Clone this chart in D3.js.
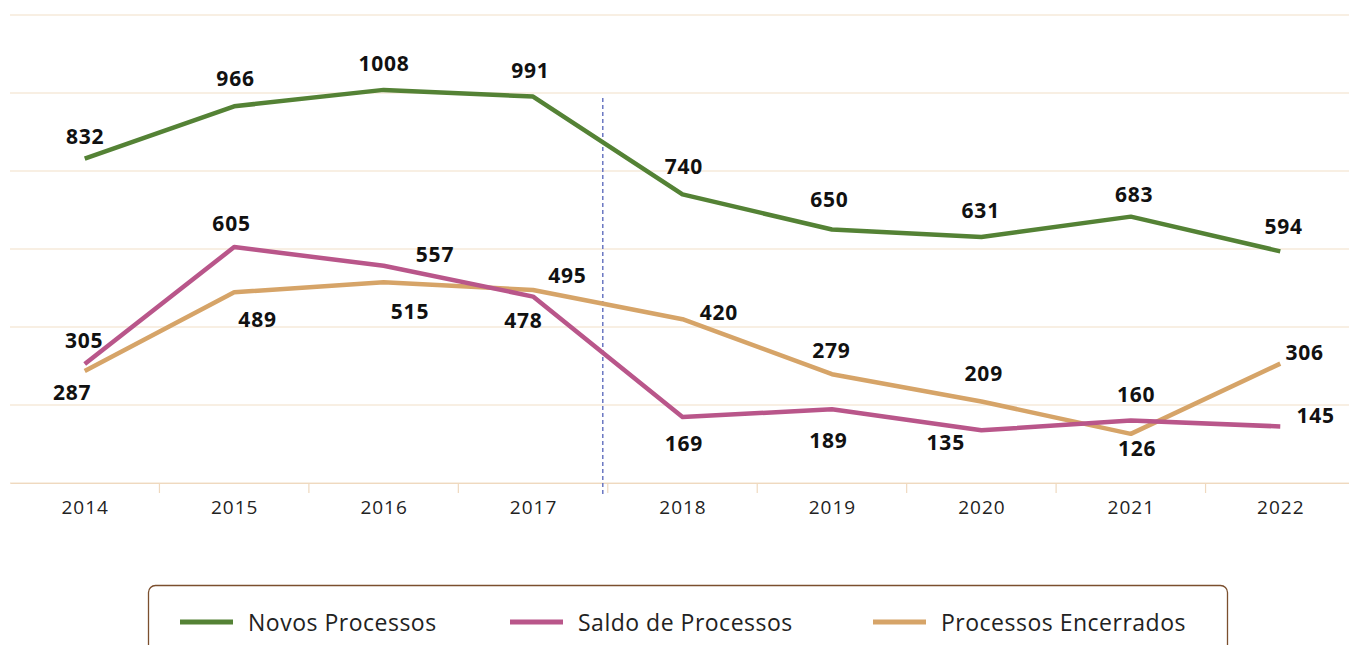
<!DOCTYPE html>
<html><head><meta charset="utf-8">
<script src="https://cdn.jsdelivr.net/npm/d3@7"></script>
<style>body{margin:0;background:#fff;}svg{display:block;}</style>
</head><body>
<svg id="c" width="1349" height="645"></svg>
<script>
const years = ["2014","2015","2016","2017","2018","2019","2020","2021","2022"];
const novos = [832, 966, 1008, 991, 740, 650, 631, 683, 594];
const saldo = [305, 605, 557, 478, 169, 189, 135, 160, 145];
const encerrados = [287, 489, 515, 495, 420, 279, 209, 126, 306];
const gridTicks = [0, 200, 400, 600, 800, 1000, 1200];
const seriesNames = ["Novos Processos", "Saldo de Processos", "Processos Encerrados"];
const colors = ["#548235", "#b9568a", "#d6a468"];
// label offsets [dx, dy] relative to point (styling)
const offNovos = [[0,-23],[1,-28],[0,-27],[-3,-27],[1,-28],[-3,-31],[-1,-27],[3,-23],[3,-25]];
const offSaldo = [[-1,-24],[-3,-24],[51,-12],[-10,23],[1,26],[-4,31],[-36,12],[5,-27],[35,-11]];
const offEnc = [[-13,21],[23,27],[26,29],[34,-15],[36,-7],[-1,-24],[2,-28],[6,14],[24,-12]];
const FONT = "'Open Sans', Lato, sans-serif";

const svg = d3.select("#c");
const x = d3.scaleBand().domain(years).range([10, 1355]).padding(0);
const y = d3.scaleLinear().domain([0, 1200]).range([483, 15]);
const cx = d => x(d) + x.bandwidth()/2;

// gridlines
svg.append("g").selectAll("line").data(gridTicks).join("line")
  .attr("x1", 10).attr("x2", 1349)
  .attr("y1", d => y(d)).attr("y2", d => y(d))
  .attr("stroke", "#f1dfc8").attr("stroke-width", 1.2);

// x axis
const xAxis = d3.axisBottom(x).tickSize(0).tickPadding(18);
const gx = svg.append("g").attr("transform", `translate(0,${y(0)})`).call(xAxis);
gx.select(".domain").attr("stroke", "#efd9bf").attr("stroke-width", 1.2);
gx.selectAll(".tick text").attr("font-family", FONT)
  .attr("font-size", 19).attr("fill", "#222").attr("dy", "0.71em")
  .attr("letter-spacing", 1).attr("dx", 0.5);
// tick separators between bands
svg.append("g").selectAll("line").data(years.slice(1)).join("line")
  .attr("x1", d => x(d)).attr("x2", d => x(d))
  .attr("y1", y(0)).attr("y2", y(0) + 10)
  .attr("stroke", "#efd9bf").attr("stroke-width", 1.2);

// dashed divider between 2017 and 2018
const divX = x("2018") - 5;
svg.append("line").attr("x1", divX).attr("x2", divX).attr("y1", 98).attr("y2", 496)
  .attr("stroke", "#6b77c2").attr("stroke-width", 1.5).attr("stroke-dasharray", "4,3");

const line = d3.line().x((d,i) => cx(years[i])).y(d => y(d));
const allSeries = [novos, saldo, encerrados];
const offs = [offNovos, offSaldo, offEnc];
[2,1,0].forEach(k => {
  svg.append("path").datum(allSeries[k]).attr("d", line)
    .attr("fill", "none").attr("stroke", colors[k]).attr("stroke-width", 4.5)
    .attr("stroke-linejoin", "round");
});
[0,1,2].forEach(k => {
  svg.append("g").selectAll("text").data(allSeries[k]).join("text")
    .attr("x", (d,i) => cx(years[i]) + offs[k][i][0] + 0.4)
    .attr("y", (d,i) => y(d) + offs[k][i][1])
    .attr("text-anchor", "middle").attr("dominant-baseline", "central")
    .attr("font-family", FONT).attr("font-weight", 700)
    .attr("font-size", 21).attr("letter-spacing", 0.8).attr("fill", "#111")
    .text(d => d);
});

// legend
const lg = svg.append("g");
lg.append("rect").attr("x", 148.5).attr("y", 585.5).attr("width", 1079).attr("height", 80)
  .attr("rx", 7).attr("fill", "#fff").attr("stroke", "#7b4f2e").attr("stroke-width", 1.3);
const legX = [180, 510, 873];
seriesNames.forEach((n, k) => {
  lg.append("line").attr("x1", legX[k]).attr("x2", legX[k] + 53).attr("y1", 622).attr("y2", 622)
    .attr("stroke", colors[k]).attr("stroke-width", 5);
  lg.append("text").attr("x", legX[k] + 68).attr("y", 622).attr("dominant-baseline", "central")
    .attr("font-family", FONT).attr("font-size", 23).attr("letter-spacing", 0.5).attr("fill", "#222")
    .text(n);
});
</script>
</body></html>
